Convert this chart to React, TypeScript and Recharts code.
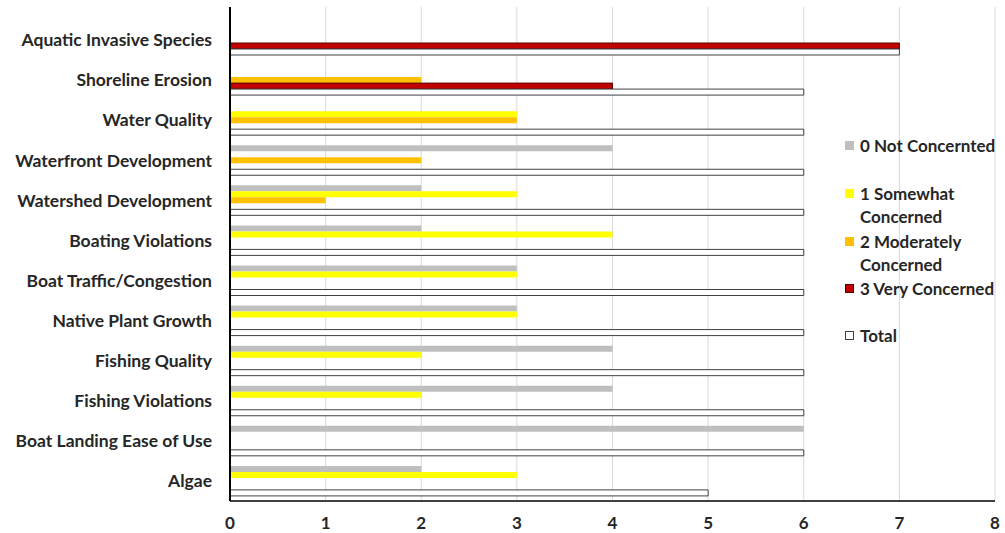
import React from 'react';
import { BarChart, Bar, XAxis, YAxis, CartesianGrid } from 'recharts';

const categories = [
  'Aquatic Invasive Species',
  'Shoreline Erosion',
  'Water Quality',
  'Waterfront Development',
  'Watershed Development',
  'Boating Violations',
  'Boat Traffic/Congestion',
  'Native Plant Growth',
  'Fishing Quality',
  'Fishing Violations',
  'Boat Landing Ease of Use',
  'Algae',
];
const notConcerned = [null, null, null, 4, 2, 2, 3, 3, 4, 4, 6, 2];
const somewhat = [null, null, 3, null, 3, 4, 3, 3, 2, 2, null, 3];
const moderately = [null, 2, 3, 2, 1, null, null, null, null, null, null, null];
const very = [7, 4, null, null, null, null, null, null, null, null, null, null];
const total = [7, 6, 6, 6, 6, 6, 6, 6, 6, 6, 6, 5];
const xTicks = [0, 1, 2, 3, 4, 5, 6, 7, 8];

const data = categories.map((c, i) => ({
  name: c,
  n0: notConcerned[i],
  n1: somewhat[i],
  n2: moderately[i],
  n3: very[i],
  total: total[i],
}));

const FONT = 'Lato, "Open Sans", sans-serif';
const TEXT = '#262626';

const legendItems = [
  { lines: ['0 Not Concernted'], fill: '#BFBFBF', stroke: 'none', top: 0 },
  { lines: ['1 Somewhat', 'Concerned'], fill: '#FFFF00', stroke: 'none', top: 48 },
  { lines: ['2 Moderately', 'Concerned'], fill: '#FFC000', stroke: 'none', top: 96 },
  { lines: ['3 Very Concerned'], fill: '#C00000', stroke: '#5a0000', top: 143 },
  { lines: ['Total'], fill: '#FFFFFF', stroke: '#404040', top: 190 },
];

const LegendBox = () => (
  <div style={{ position: 'absolute', left: 845, top: 134, width: 170, height: 220, fontFamily: FONT, fontWeight: 700, fontSize: 17, color: TEXT }}>
    {legendItems.map((it, i) => (
      <div key={i} style={{ position: 'absolute', left: 0, top: it.top }}>
        <div style={{ position: 'absolute', left: 0, top: 7, width: 9, height: 9, background: it.fill, border: it.stroke === 'none' ? 'none' : `1px solid ${it.stroke}`, boxSizing: 'border-box' }} />
        <div style={{ position: 'absolute', left: 15, top: 0, lineHeight: '23px', whiteSpace: 'nowrap' }}>
          {it.lines.map((l, j) => (<div key={j}>{l}</div>))}
        </div>
      </div>
    ))}
  </div>
);

export default function App() {
  return (
    <div style={{ position: 'absolute', left: 0, top: 0, width: 1005, height: 533, background: '#fff' }}>
      <BarChart
        width={1005}
        height={533}
        data={data}
        layout="vertical"
        barSize={6}
        barGap={0}
        margin={{ top: 7, right: 10, bottom: 0, left: 0 }}
      >
        <CartesianGrid horizontal={false} stroke="#D9D9D9" strokeWidth={1} />
        <XAxis
          type="number"
          domain={[0, 8]}
          ticks={xTicks}
          interval={0}
          tickLine={false}
          tickSize={0}
          tickMargin={16}
          height={32}
          axisLine={{ stroke: '#000', strokeWidth: 1.5 }}
          tick={{ fill: TEXT, fontFamily: FONT, fontWeight: 700, fontSize: 17 }}
        />
        <YAxis
          type="category"
          dataKey="name"
          width={230}
          interval={0}
          tickLine={false}
          tickSize={0}
          tickMargin={18}
          padding={{ top: 13, bottom: 0 }}
          axisLine={{ stroke: '#000', strokeWidth: 2 }}
          tick={{ fill: TEXT, fontFamily: FONT, fontWeight: 700, fontSize: 17.5 }}
        />
        <Bar dataKey="n0" name="0 Not Concernted" fill="#BFBFBF" isAnimationActive={false} />
        <Bar dataKey="n1" name="1 Somewhat Concerned" fill="#FFFF00" isAnimationActive={false} />
        <Bar dataKey="n2" name="2 Moderately Concerned" fill="#FFC000" isAnimationActive={false} />
        <Bar dataKey="n3" name="3 Very Concerned" fill="#C00000" stroke="#5a0000" strokeWidth={1} isAnimationActive={false} />
        <Bar dataKey="total" name="Total" fill="#FFFFFF" stroke="#404040" strokeWidth={1} isAnimationActive={false} />
      </BarChart>
      <LegendBox />
    </div>
  );
}
